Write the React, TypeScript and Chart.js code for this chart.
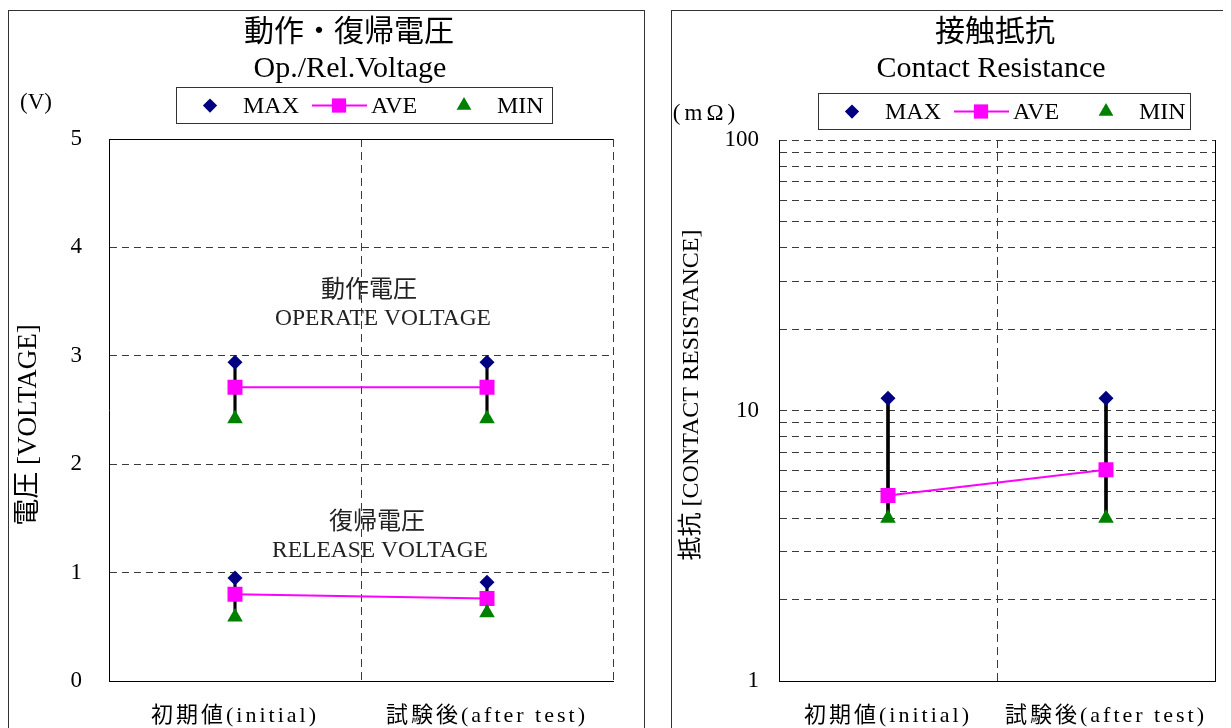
import React, { useEffect, useRef, useState } from 'react';
import { Chart, registerables } from 'chart.js';

Chart.register(...registerables);

// ---------- data ----------
const categories = ['初期値(initial)', '試験後(after test)'];
const seriesNames = ['MAX', 'AVE', 'MIN'];

const operateMax = [2.94, 2.94];
const operateAve = [2.71, 2.71];
const operateMin = [2.42, 2.42];

const releaseMax = [0.95, 0.91];
const releaseAve = [0.8, 0.76];
const releaseMin = [0.59, 0.63];

const resistMax = [11.1, 11.1];
const resistAve = [4.85, 6.04];
const resistMin = [4.0, 4.0];

const voltageMin = 0;
const voltageMax = 5;
const voltageStep = 1;
const resistMinAxis = 1;
const resistMaxAxis = 100;
const resistGridTicks = [1, 2, 3, 4, 5, 6, 7, 8, 9, 10, 20, 30, 40, 50, 60, 70, 80, 90, 100];
const resistLabelTicks = [1, 10, 100];

// ---------- style ----------
const COLORS: Record<string, string> = {
  MAX: '#000080',
  AVE: '#FF00FF',
  MIN: '#008000',
  range: '#000000',
};
const SERIF = '"Liberation Serif", "Noto Sans CJK JP", serif';
const GRID = '#3a3a3a';
const DASH = [7, 5];
const CLEAR = 'rgba(0,0,0,0)';
const PANEL_H = 726;
const X_AXIS_H = 56;

const MARKERS: Record<string, { style: string; radius: number }> = {
  MAX: { style: 'rectRot', radius: 7.5 },
  AVE: { style: 'rect', radius: 10.6 },
  MIN: { style: 'triangle', radius: 9 },
};

function groupDatasets(group: string, max: number[], ave: number[], min: number[], rangeWidth: number) {
  return [
    {
      type: 'bar',
      label: group,
      data: categories.map((_, i) => [min[i], max[i]]),
      backgroundColor: COLORS.range,
      borderWidth: 0,
      barThickness: rangeWidth,
      grouped: false,
      order: 10,
    },
    {
      type: 'line',
      label: 'AVE',
      data: ave,
      borderColor: COLORS.AVE,
      backgroundColor: COLORS.AVE,
      pointBackgroundColor: COLORS.AVE,
      borderWidth: 2,
      pointStyle: MARKERS.AVE.style,
      pointRadius: MARKERS.AVE.radius,
      pointBorderWidth: 0,
      order: 3,
    },
    {
      type: 'line',
      label: 'MAX',
      data: max,
      showLine: false,
      borderColor: COLORS.MAX,
      backgroundColor: COLORS.MAX,
      pointBackgroundColor: COLORS.MAX,
      pointStyle: MARKERS.MAX.style,
      pointRadius: MARKERS.MAX.radius,
      pointBorderWidth: 0,
      order: 2,
    },
    {
      type: 'line',
      label: 'MIN',
      data: min,
      showLine: false,
      borderColor: COLORS.MIN,
      backgroundColor: COLORS.MIN,
      pointBackgroundColor: COLORS.MIN,
      pointStyle: MARKERS.MIN.style,
      pointRadius: MARKERS.MIN.radius,
      pointBorderWidth: 0,
      order: 1,
    },
  ];
}

function drawMarker(ctx: CanvasRenderingContext2D, style: string, x: number, y: number, r: number, color: string) {
  ctx.fillStyle = color;
  ctx.beginPath();
  if (style === 'rectRot') {
    ctx.moveTo(x, y - r);
    ctx.lineTo(x + r, y);
    ctx.lineTo(x, y + r);
    ctx.lineTo(x - r, y);
  } else if (style === 'rect') {
    const s = r * Math.SQRT1_2;
    ctx.rect(x - s, y - s, 2 * s, 2 * s);
  } else {
    ctx.moveTo(x, y - r);
    ctx.lineTo(x + r * 0.866, y + r * 0.5);
    ctx.lineTo(x - r * 0.866, y + r * 0.5);
  }
  ctx.closePath();
  ctx.fill();
}

type TextItem = {
  text: string;
  x: number;
  y: number;
  font: string;
  color?: string;
  rotate?: number;
  spacing?: string;
};

type DecorCfg = {
  texts: TextItem[];
  xLabelFont: string;
  xLabelSpacing: string;
  xLabelOffset: number;
  legend: { x: number; y: number; w: number; h: number; font: string };
};

const legendSlots: Record<string, { marker: number; text: number; lineFrom?: number; lineTo?: number }> = {
  MAX: { marker: 34, text: 67 },
  AVE: { marker: 163, lineFrom: 136, lineTo: 191, text: 195 },
  MIN: { marker: 288, text: 321 },
};

function makeDecor(cfg: DecorCfg) {
  return {
    id: 'decor',
    afterDraw(chart: any) {
      const ctx: CanvasRenderingContext2D = chart.ctx;
      for (const t of cfg.texts) {
        ctx.save();
        ctx.font = t.font;
        ctx.fillStyle = t.color || '#000';
        ctx.textAlign = 'center';
        ctx.textBaseline = 'middle';
        try {
          (ctx as any).letterSpacing = t.spacing || '0px';
        } catch (e) {}
        ctx.translate(t.x, t.y);
        if (t.rotate) ctx.rotate(t.rotate);
        ctx.fillText(t.text, 0, 0);
        ctx.restore();
      }
      const xs = chart.scales.x;
      const labels: string[] = chart.data.labels;
      ctx.save();
      ctx.font = cfg.xLabelFont;
      ctx.fillStyle = '#000';
      ctx.textAlign = 'center';
      ctx.textBaseline = 'middle';
      try {
        (ctx as any).letterSpacing = cfg.xLabelSpacing;
      } catch (e) {}
      labels.forEach((lab, i) => {
        ctx.fillText(lab, xs.getPixelForValue(i), chart.chartArea.bottom + cfg.xLabelOffset);
      });
      ctx.restore();

      const lg = cfg.legend;
      ctx.save();
      ctx.strokeStyle = '#333';
      ctx.lineWidth = 1;
      ctx.strokeRect(lg.x + 0.5, lg.y + 0.5, lg.w, lg.h);
      const cy = lg.y + lg.h / 2 + 0.5;
      const ds = chart.data.datasets;
      ctx.font = lg.font;
      ctx.textBaseline = 'middle';
      ctx.textAlign = 'left';
      seriesNames.forEach((name) => {
        const d = ds.find((q: any) => q.label === name);
        if (!d) return;
        const slot = legendSlots[name];
        if (d.showLine !== false && slot.lineFrom !== undefined && slot.lineTo !== undefined) {
          ctx.strokeStyle = d.borderColor;
          ctx.lineWidth = 2;
          ctx.beginPath();
          ctx.moveTo(lg.x + slot.lineFrom, cy);
          ctx.lineTo(lg.x + slot.lineTo, cy);
          ctx.stroke();
        }
        drawMarker(ctx, d.pointStyle, lg.x + slot.marker, cy, d.pointRadius * 0.95, d.pointBackgroundColor);
        ctx.fillStyle = '#000';
        ctx.fillText(name, lg.x + slot.text, cy + 1);
      });
      ctx.restore();
    },
  };
}

function voltageConfig(): any {
  const decor = makeDecor({
    texts: [
      { text: '動作・復帰電圧', x: 340, y: 22, font: `30px ${SERIF}` },
      { text: 'Op./Rel.Voltage', x: 341, y: 58, font: `30px ${SERIF}` },
      { text: '(V)', x: 27, y: 92, font: `23px ${SERIF}` },
      { text: '電圧 [VOLTAGE]', x: 20, y: 414, font: `27px ${SERIF}`, rotate: -Math.PI / 2 },
      { text: '動作電圧', x: 360, y: 280, font: `24px ${SERIF}`, color: '#222' },
      { text: 'OPERATE VOLTAGE', x: 374, y: 308, font: `23.5px ${SERIF}`, color: '#222' },
      { text: '復帰電圧', x: 368, y: 512, font: `24px ${SERIF}`, color: '#222' },
      { text: 'RELEASE VOLTAGE', x: 371, y: 540, font: `23.5px ${SERIF}`, color: '#222' },
    ],
    xLabelFont: `22px ${SERIF}`,
    xLabelSpacing: '3px',
    xLabelOffset: 35,
    legend: { x: 167, y: 76, w: 376, h: 36, font: `24px ${SERIF}` },
  });
  return {
    type: 'line',
    data: {
      labels: categories,
      datasets: [
        ...groupDatasets('動作電圧', operateMax, operateAve, operateMin, 2.5),
        ...groupDatasets('復帰電圧', releaseMax, releaseAve, releaseMin, 2.5),
      ],
    },
    plugins: [decor],
    options: {
      responsive: false,
      animation: false,
      events: [],
      layout: { padding: { top: 128, right: 31, left: 0, bottom: 0 } },
      plugins: {
        legend: { display: false },
        tooltip: { enabled: false },
      },
      scales: {
        x: {
          type: 'category',
          offset: true,
          grid: {
            offset: true,
            drawTicks: false,
            lineWidth: 1,
            color: (c: any) => (c.index === 0 ? CLEAR : GRID),
          },
          border: { display: true, color: '#000', width: 1, dash: [8, 5] },
          ticks: { display: false },
          afterFit: (s: any) => {
            s.height = X_AXIS_H;
          },
        },
        y: {
          type: 'linear',
          min: voltageMin,
          max: voltageMax,
          ticks: {
            stepSize: voltageStep,
            font: { family: SERIF, size: 23 },
            color: '#000',
            padding: 27,
          },
          grid: {
            drawTicks: false,
            lineWidth: 1,
            color: (c: any) => {
              const v = c.tick ? c.tick.value : null;
              if (v === voltageMin) return CLEAR;
              if (v === voltageMax) return '#000';
              return GRID;
            },
          },
          border: {
            display: true,
            color: '#000',
            width: 1,
            dash: (c: any) => (c.tick && c.tick.value === voltageMax ? [] : DASH),
          },
          afterFit: (s: any) => {
            s.width = 100;
          },
        },
      },
    },
  };
}

function resistConfig(): any {
  const decor = makeDecor({
    texts: [
      { text: '接触抵抗', x: 323, y: 22, font: `30px ${SERIF}` },
      { text: 'Contact Resistance', x: 319, y: 58, font: `30px ${SERIF}` },
      { text: '(mΩ)', x: 34, y: 103, font: `23px ${SERIF}`, spacing: '4px' },
      { text: '抵抗 [CONTACT RESISTANCE]', x: 20, y: 384, font: `24px ${SERIF}`, rotate: -Math.PI / 2 },
    ],
    xLabelFont: `22px ${SERIF}`,
    xLabelSpacing: '3px',
    xLabelOffset: 35,
    legend: { x: 146, y: 82, w: 372, h: 36, font: `24px ${SERIF}` },
  });
  return {
    type: 'line',
    data: {
      labels: categories,
      datasets: [...groupDatasets('接触抵抗', resistMax, resistAve, resistMin, 3)],
    },
    plugins: [decor],
    options: {
      responsive: false,
      animation: false,
      events: [],
      layout: { padding: { top: 129, right: 12, left: 0, bottom: 0 } },
      plugins: {
        legend: { display: false },
        tooltip: { enabled: false },
      },
      scales: {
        x: {
          type: 'category',
          offset: true,
          grid: {
            offset: true,
            drawTicks: false,
            lineWidth: 1,
            color: (c: any) => (c.index === 0 ? CLEAR : c.index === 1 ? GRID : '#000'),
          },
          border: {
            display: true,
            color: '#000',
            width: 1,
            dash: (c: any) => (c.index === 1 ? [8, 5] : []),
          },
          ticks: { display: false },
          afterFit: (s: any) => {
            s.height = X_AXIS_H;
          },
        },
        y: {
          type: 'logarithmic',
          min: resistMinAxis,
          max: resistMaxAxis,
          afterBuildTicks: (axis: any) => {
            axis.ticks = resistGridTicks.map((v) => ({ value: v }));
          },
          ticks: {
            autoSkip: false,
            font: { family: SERIF, size: 23 },
            color: '#000',
            padding: 20,
            callback: (v: any) => (resistLabelTicks.indexOf(Number(v)) >= 0 ? String(v) : ''),
          },
          grid: {
            drawTicks: false,
            lineWidth: 1,
            color: (c: any) => (c.tick && c.tick.value === resistMinAxis ? CLEAR : GRID),
          },
          border: { display: true, color: '#000', width: 1, dash: DASH },
          afterFit: (s: any) => {
            s.width = 107;
          },
        },
      },
    },
  };
}

function ChartPanel({ makeConfig, width, height, gap }: { makeConfig: () => any; width: number; height: number; gap: number }) {
  const ref = useRef<HTMLCanvasElement | null>(null);
  const [err, setErr] = useState('');
  useEffect(() => {
    let chart: any = null;
    try {
      chart = new Chart(ref.current as HTMLCanvasElement, makeConfig());
    } catch (e: any) {
      setErr(String(e && e.stack ? e.stack : e));
    }
    return () => {
      if (chart) chart.destroy();
    };
  }, [makeConfig]);
  return (
    <div
      style={{
        position: 'relative',
        flex: '0 0 auto',
        marginRight: gap,
        width,
        height,
        borderTop: '1px solid #333',
        borderLeft: '1px solid #333',
        borderRight: '1px solid #333',
        background: '#fff',
      }}
    >
      <canvas ref={ref} width={width} height={height} style={{ display: 'block', width, height }} />
      {err ? (
        <pre style={{ position: 'absolute', top: 0, left: 0, fontSize: 11, whiteSpace: 'pre-wrap', color: 'red' }}>{err}</pre>
      ) : null}
    </div>
  );
}

export default function App() {
  useEffect(() => {
    const html = document.documentElement;
    const prev = html.style.overflow;
    html.style.overflow = 'hidden';
    return () => {
      html.style.overflow = prev;
    };
  }, []);
  return (
    <div
      style={{
        display: 'flex',
        alignItems: 'flex-start',
        paddingTop: 2,
        height: PANEL_H,
        overflow: 'hidden',
      }}
    >
      <ChartPanel makeConfig={voltageConfig} width={635} height={PANEL_H} gap={26} />
      <ChartPanel makeConfig={resistConfig} width={555} height={PANEL_H} gap={0} />
    </div>
  );
}
